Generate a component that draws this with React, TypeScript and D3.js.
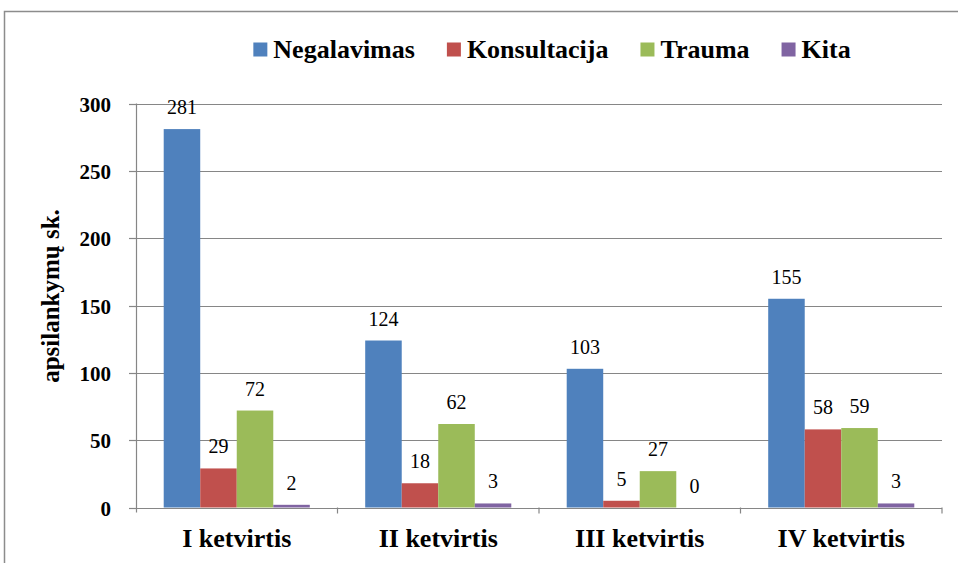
import React, { useEffect, useRef } from "react";
import * as d3 from "d3";

const categories = ["I ketvirtis", "II ketvirtis", "III ketvirtis", "IV ketvirtis"];
const seriesNames = ["Negalavimas", "Konsultacija", "Trauma", "Kita"];
const negalavimas = [281, 124, 103, 155];
const konsultacija = [29, 18, 5, 58];
const trauma = [72, 62, 27, 59];
const kita = [2, 3, 0, 3];
const yTicks = [0, 50, 100, 150, 200, 250, 300];
const colors = ["#4F81BD", "#C0504D", "#9BBB59", "#8064A2"];

const FONT = "'Liberation Serif', 'Times New Roman', serif";

export default function App() {
  const ref = useRef<SVGSVGElement | null>(null);
  const width = 958;
  const height = 563;

  useEffect(() => {
    drawChart();
  }, []);

  function drawChart() {
    const svg = d3.select(ref.current);
    svg.selectAll("*").remove();

    const values = [negalavimas, konsultacija, trauma, kita];
    const left = 136;
    const right = 942;
    const top = 103.5;
    const bottom = 507.5;
    const grid = "#868686";

    // outer frame
    svg
      .append("rect")
      .attr("x", 4.5)
      .attr("y", 11.5)
      .attr("width", 1000)
      .attr("height", 1000)
      .attr("fill", "none")
      .attr("stroke", "#8c8c8c")
      .attr("stroke-width", 1.5);

    const y = d3.scaleLinear().domain([0, 300]).range([bottom, top]);
    const x0 = d3
      .scaleBand()
      .domain(categories)
      .range([left, right])
      .paddingInner(0.275)
      .paddingOuter(0.1375);
    const x1 = d3
      .scaleBand()
      .domain(seriesNames)
      .range([0, x0.bandwidth()]);

    // gridlines + y ticks
    const yg = svg.append("g");
    yTicks.forEach((t) => {
      const yy = Math.round(y(t)) + 0.5;
      if (t > 0) {
        yg.append("line")
          .attr("x1", left)
          .attr("x2", right)
          .attr("y1", yy)
          .attr("y2", yy)
          .attr("stroke", grid)
          .attr("stroke-width", 1.2);
      }
      yg.append("line")
        .attr("x1", left - 7)
        .attr("x2", left)
        .attr("y1", yy)
        .attr("y2", yy)
        .attr("stroke", grid)
        .attr("stroke-width", 1.2);
      yg.append("text")
        .attr("x", 111)
        .attr("y", yy + 7)
        .attr("text-anchor", "end")
        .style("font-family", FONT)
        .style("font-weight", "bold")
        .style("font-size", "21px")
        .text(t);
    });

    // bars
    values.forEach((series, si) => {
      const g = svg.append("g");
      g.selectAll("rect")
        .data(series)
        .enter()
        .append("rect")
        .attr("x", (d, i) => (x0(categories[i]) as number) + (x1(seriesNames[si]) as number))
        .attr("y", (d) => y(d))
        .attr("width", x1.bandwidth())
        .attr("height", (d) => bottom - y(d))
        .attr("fill", colors[si]);
      g.selectAll("text")
        .data(series)
        .enter()
        .append("text")
        .attr("x", (d, i) => (x0(categories[i]) as number) + (x1(seriesNames[si]) as number) + x1.bandwidth() / 2)
        .attr("y", (d) => y(d) - 15)
        .attr("text-anchor", "middle")
        .style("font-family", FONT)
        .style("font-size", "20px")
        .text((d) => d);
    });

    // axes lines
    svg
      .append("line")
      .attr("x1", left + 0.5)
      .attr("x2", left + 0.5)
      .attr("y1", top)
      .attr("y2", bottom + 5)
      .attr("stroke", grid)
      .attr("stroke-width", 1.2);
    svg
      .append("line")
      .attr("x1", left)
      .attr("x2", right)
      .attr("y1", Math.round(bottom) + 0.5)
      .attr("y2", Math.round(bottom) + 0.5)
      .attr("stroke", grid)
      .attr("stroke-width", 1.2);
    const step = x0.step();
    categories.forEach((c, i) => {
      const xx = left + step * (i + 1);
      svg
        .append("line")
        .attr("x1", xx)
        .attr("x2", xx)
        .attr("y1", bottom)
        .attr("y2", bottom + 6)
        .attr("stroke", grid)
        .attr("stroke-width", 1.2);
      svg
        .append("text")
        .attr("x", (x0(c) as number) + x0.bandwidth() / 2)
        .attr("y", 547)
        .attr("text-anchor", "middle")
        .style("font-family", FONT)
        .style("font-weight", "bold")
        .style("font-size", "26px")
        .text(c);
    });

    // y axis title
    svg
      .append("text")
      .attr("transform", "translate(59, 296) rotate(-90)")
      .attr("text-anchor", "middle")
      .style("font-family", FONT)
      .style("font-weight", "bold")
      .style("font-size", "25px")
      .text("apsilankymų sk.");

    // legend
    const legend = svg.append("g");
    const items = seriesNames.map((name, i) => {
      const it = legend.append("g");
      it.append("rect")
        .attr("width", 14)
        .attr("height", 14)
        .attr("y", 42.5)
        .attr("fill", colors[i]);
      const t = it
        .append("text")
        .attr("x", 20)
        .attr("y", 57.5)
        .style("font-family", FONT)
        .style("font-weight", "bold")
        .style("font-size", "26px")
        .text(name);
      const w = (t.node() as SVGTextElement).getComputedTextLength();
      return { it, w: 20 + w };
    });
    const gap = 32;
    const total = d3.sum(items, (d) => d.w) + gap * (items.length - 1);
    let cx = 552 - total / 2;
    items.forEach((d) => {
      d.it.attr("transform", `translate(${cx}, 0)`);
      cx += d.w + gap;
    });
  }

  return (
    <div style={{ position: "absolute", left: 0, top: 0 }}>
      <svg ref={ref} width={width} height={height} style={{ display: "block", background: "#fff" }} />
    </div>
  );
}
